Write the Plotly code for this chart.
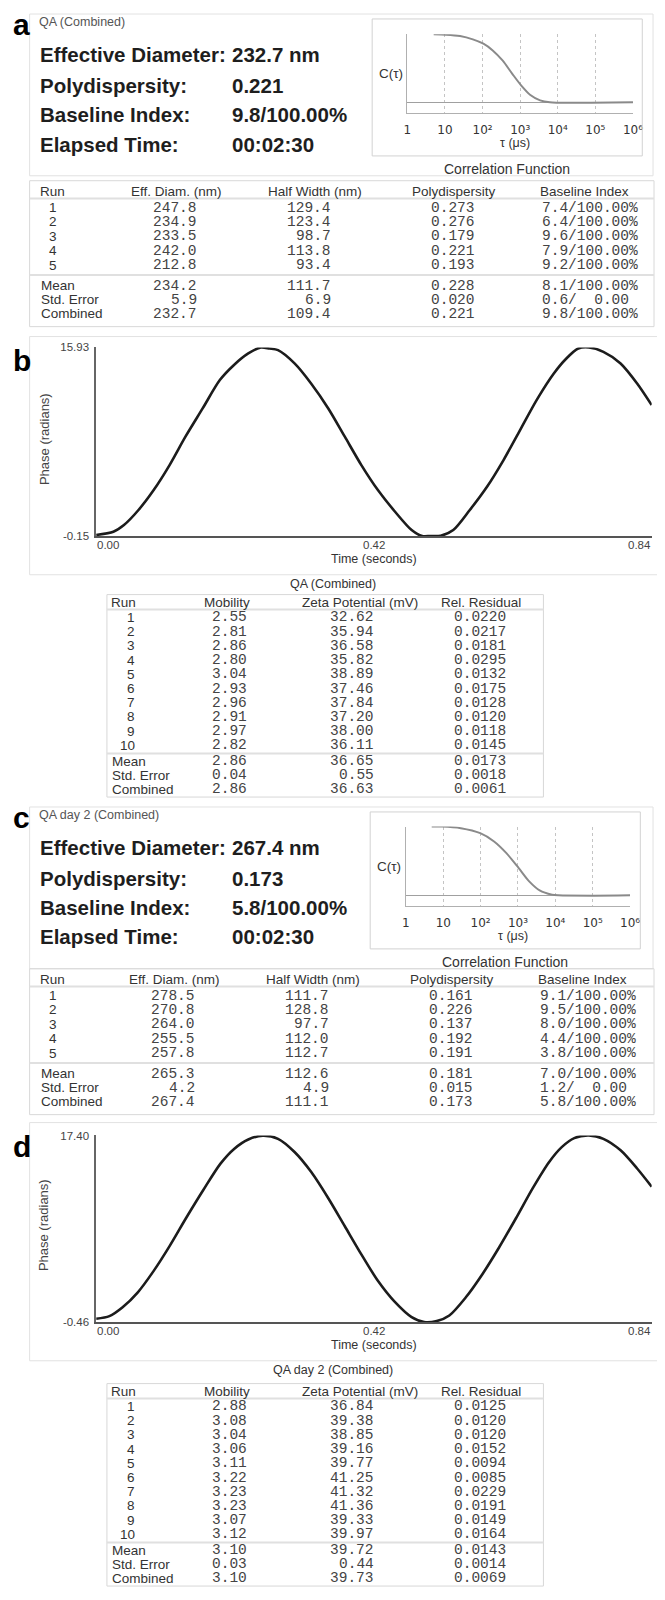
import plotly.graph_objects as go

# page is 665x1600; the browser adds an 8px body margin, so the figure is drawn
# 8px smaller and all layout positions below are given in page pixels.
PAGE_W, PAGE_H = 665, 1600
OFF = 8
W, H = PAGE_W - OFF, PAGE_H - OFF

# ------------------------------------------------------------------ data
dls_titles = ["QA (Combined)", "QA day 2 (Combined)"]
zeta_titles = ["QA (Combined)", "QA day 2 (Combined)"]

summary_labels = ["Effective Diameter:", "Polydispersity:", "Baseline Index:", "Elapsed Time:"]
summary_a = ["232.7 nm", "0.221", "9.8/100.00%", "00:02:30"]
summary_c = ["267.4 nm", "0.173", "5.8/100.00%", "00:02:30"]

dls_headers = ["Run", "Eff. Diam. (nm)", "Half Width (nm)", "Polydispersity", "Baseline Index"]
dls_rows = ["1", "2", "3", "4", "5", "Mean", "Std. Error", "Combined"]

a_eff = [247.8, 234.9, 233.5, 242.0, 212.8, 234.2, 5.9, 232.7]
a_half = [129.4, 123.4, 98.7, 113.8, 93.4, 111.7, 6.9, 109.4]
a_poly = [0.273, 0.276, 0.179, 0.221, 0.193, 0.228, 0.020, 0.221]
a_base = [7.4, 6.4, 9.6, 7.9, 9.2, 8.1, 0.6, 9.8]
a_base_tot = [100.0, 100.0, 100.0, 100.0, 100.0, 100.0, 0.0, 100.0]

c_eff = [278.5, 270.8, 264.0, 255.5, 257.8, 265.3, 4.2, 267.4]
c_half = [111.7, 128.8, 97.7, 112.0, 112.7, 112.6, 4.9, 111.1]
c_poly = [0.161, 0.226, 0.137, 0.192, 0.191, 0.181, 0.015, 0.173]
c_base = [9.1, 9.5, 8.0, 4.4, 3.8, 7.0, 1.2, 5.8]
c_base_tot = [100.0, 100.0, 100.0, 100.0, 100.0, 100.0, 0.0, 100.0]

zeta_headers = ["Run", "Mobility", "Zeta Potential (mV)", "Rel. Residual"]
zeta_rows = ["1", "2", "3", "4", "5", "6", "7", "8", "9", "10", "Mean", "Std. Error", "Combined"]

b_mob = [2.55, 2.81, 2.86, 2.80, 3.04, 2.93, 2.96, 2.91, 2.97, 2.82, 2.86, 0.04, 2.86]
b_zeta = [32.62, 35.94, 36.58, 35.82, 38.89, 37.46, 37.84, 37.20, 38.00, 36.11, 36.65, 0.55, 36.63]
b_res = [0.0220, 0.0217, 0.0181, 0.0295, 0.0132, 0.0175, 0.0128, 0.0120, 0.0118, 0.0145, 0.0173, 0.0018, 0.0061]

d_mob = [2.88, 3.08, 3.04, 3.06, 3.11, 3.22, 3.23, 3.23, 3.07, 3.12, 3.10, 0.03, 3.10]
d_zeta = [36.84, 39.38, 38.85, 39.16, 39.77, 41.25, 41.32, 41.36, 39.33, 39.97, 39.72, 0.44, 39.73]
d_res = [0.0125, 0.0120, 0.0120, 0.0152, 0.0094, 0.0085, 0.0229, 0.0191, 0.0149, 0.0164, 0.0143, 0.0014, 0.0069]

# correlation functions (tau in microseconds)
corr_ticks = [1, 10, 100, 1000, 10000, 100000, 1000000]
corr_ticktext = ["1", "10", "10²", "10³", "10⁴", "10⁵", "10⁶"]
corr_a_tau = [5.0, 10.7, 25.1, 55, 105, 186, 339, 617, 1072, 1862, 3388, 6166, 10233, 75858, 1000000]
corr_a_c = [1.00, 0.995, 0.975, 0.926, 0.862, 0.764, 0.616, 0.419, 0.246, 0.108, 0.030, 0.0, -0.005, -0.005, 0.0]
corr_c_tau = [4.9, 9.3, 29.5, 97.7, 229, 490, 1047, 1995, 3802, 8128, 12023, 104713, 1000000]
corr_c_c = [1.0, 1.0, 0.976, 0.903, 0.783, 0.613, 0.396, 0.203, 0.072, 0.010, 0.0, -0.005, 0.0]

# phase plots
b_time = [0.000, 0.026, 0.042, 0.064, 0.087, 0.111, 0.135, 0.161, 0.187, 0.208, 0.230, 0.249, 0.262,
          0.275, 0.300, 0.325, 0.351, 0.376, 0.401, 0.426, 0.452, 0.477, 0.493, 0.505, 0.521, 0.540,
          0.565, 0.591, 0.616, 0.641, 0.666, 0.692, 0.711, 0.729, 0.745, 0.767, 0.793, 0.818, 0.840]
b_phase = [-0.06, 0.22, 0.79, 2.07, 3.77, 5.90, 8.32, 10.73, 13.15, 14.42, 15.42, 15.93, 15.84,
           15.70, 14.57, 12.86, 10.73, 8.32, 5.90, 3.77, 1.92, 0.36, -0.15, -0.15, -0.12, 0.36,
           2.07, 4.05, 6.33, 8.88, 11.44, 13.71, 14.99, 15.84, 15.93, 15.56, 14.57, 12.86, 11.02]
b_range = [-0.15, 15.93]

d_time = [0.000, 0.020, 0.040, 0.063, 0.087, 0.111, 0.136, 0.162, 0.188, 0.209, 0.230, 0.252, 0.275,
          0.300, 0.325, 0.351, 0.376, 0.401, 0.426, 0.452, 0.477, 0.496, 0.515, 0.534, 0.559, 0.584,
          0.609, 0.635, 0.660, 0.685, 0.704, 0.723, 0.745, 0.767, 0.793, 0.818, 0.840]
d_phase = [-0.14, 0.11, 0.96, 2.39, 4.44, 6.81, 9.50, 12.18, 14.71, 16.14, 17.02, 17.38, 17.08,
           15.82, 13.92, 11.39, 8.71, 6.02, 3.49, 1.44, 0.01, -0.46, -0.36, 0.17, 1.91, 4.12,
           6.65, 9.50, 12.34, 14.87, 16.29, 17.15, 17.40, 17.08, 15.98, 14.24, 12.50]
d_range = [-0.46, 17.40]

time_ticks = [0.00, 0.42, 0.84]

# ------------------------------------------------------------------ helpers
SANS = "Liberation Sans, Arial, sans-serif"
MONO = "Liberation Mono, DejaVu Sans Mono, monospace"
NB = "\u00a0"

annotations = []
shapes = []


def X(px):
    return (px - OFF) / W


def Y(py):
    return 1 - (py - OFF) / H


def text(x, y, s, size, color="#333", bold=False, anchor="left", family=SANS, angle=0,
         xref="paper"):
    if bold:
        s = "<b>" + s + "</b>"
    annotations.append(dict(
        x=(X(x) if xref == "paper" else x), y=Y(y), xref=xref, yref="paper", text=s,
        showarrow=False, xanchor=anchor, yanchor="middle", borderpad=0,
        font=dict(size=size, color=color, family=family), textangle=angle))


def hline(x0, x1, y, color="#dcdcdc", width=1):
    shapes.append(dict(type="line", xref="paper", yref="paper", x0=X(x0), x1=X(x1),
                       y0=Y(y), y1=Y(y), line=dict(color=color, width=width)))


def rect(x0, y0, x1, y1, color="#dcdcdc", width=1):
    shapes.append(dict(type="rect", xref="paper", yref="paper", x0=X(x0), x1=X(x1),
                       y0=Y(y1), y1=Y(y0), line=dict(color=color, width=width),
                       fillcolor="rgba(0,0,0,0)"))


def fmt_base(b, t):
    if t > 0:
        return f"{b:.1f}/{t:6.2f}%"
    return (f"{b:.1f}/{t:6.2f}" + " ").replace(" ", NB)


NUMC = "#444444"
LABC = "#333333"


def dls_section(dy, tdy, dx, letter, title, summary, eff, half, poly, base, base_tot):
    rect(26, 8 + dy, 663, 171 + dy, "#e2e2e2")
    text(8, 19 + dy, letter, 30, "#000", bold=True)
    text(35, 16 + dy, title, 12.5, "#555")
    for lab, val, yy in zip(summary_labels, summary, [49, 80, 109, 139]):
        text(36, yy + dy, lab, 20.5, "#1e1e1e", bold=True)
        text(232, yy + dy, val, 20.5, "#1e1e1e", bold=True)
    rect(376 + dx, 13 + dy, 652 + dx, 151 + dy, "#d2d2d2")
    text(395 + dx, 68 + dy, "C(τ)", 13.5, LABC, anchor="center")
    text(522 + dx, 138 + dy, "τ (μs)", 12.5, LABC, anchor="center")
    text(514 + dx, 164 + dy, "Correlation Function", 14, LABC, anchor="center")
    rect(26, 176 + tdy, 664, 323 + tdy, "#d8d8d8")
    hline(26, 664, 194 + tdy, "#e0e0e0", 2)
    hline(26, 664, 271 + tdy, "#e0e0e0", 2)
    hy = 187 + tdy
    text(36, hy, dls_headers[0], 13.5, LABC)
    for h, cx in zip(dls_headers[1:], [176, 318, 460, 593]):
        text(cx + dx, hy, h, 13.5, LABC, anchor="center")
    row_y = [203, 217.5, 232, 246.5, 261, 282, 296, 310]
    for i, (lab, yy) in enumerate(zip(dls_rows, row_y)):
        yy = yy + tdy
        if i < 5:
            text(50, yy, lab, 13.5, LABC, anchor="center")
        else:
            text(37, yy, lab, 13.5, LABC)
        text(198 + dx, yy, f"{eff[i]:.1f}", 14.5, NUMC, anchor="right", family=MONO)
        text(335 + dx, yy, f"{half[i]:.1f}", 14.5, NUMC, anchor="right", family=MONO)
        text(482 + dx, yy, f"{poly[i]:.3f}", 14.5, NUMC, anchor="right", family=MONO)
        text(649 + dx, yy, fmt_base(base[i], base_tot[i]), 14.5, NUMC, anchor="right", family=MONO)


def phase_section(dy, letter, caption, xname):
    rect(26, 333 + dy, 670, 573 + dy, "#e2e2e2")
    text(8, 357 + dy, letter, 30, "#000", bold=True)
    text(41, 436 + dy, "Phase (radians)", 13, "#444", anchor="center", angle=-90)
    text(378, 557 + dy, "Time (seconds)", 12.5, "#333", anchor="center")
    text(336, 582 + dy, caption, 12.5, "#333", anchor="center")
    anchors = ["left", "center", "right"]
    for tv, an in zip(time_ticks, anchors):
        text(tv, 543 + dy, f"{tv:.2f}", 11.5, "#444", anchor=an, xref=xname)


def zeta_section(dy, mob, zeta, res):
    rect(105, 593 + dy, 551, 797 + dy, "#d8d8d8")
    hline(105, 551, 608 + dy, "#e0e0e0", 2)
    hline(105, 551, 753 + dy, "#e0e0e0", 2)
    hy = 601 + dy
    text(108, hy, zeta_headers[0], 13.5, LABC)
    for h, cx in zip(zeta_headers[1:], [228, 364, 487]):
        text(cx, hy, h, 13.5, LABC, anchor="center")
    row_y = [616 + 14.33 * k for k in range(10)] + [761, 775, 789]
    for i, (lab, yy) in enumerate(zip(zeta_rows, row_y)):
        yy = yy + dy
        if i < 10:
            text(135, yy, lab, 13.5, LABC, anchor="right")
        else:
            text(109, yy, lab, 13.5, LABC)
        text(249, yy, f"{mob[i]:.2f}", 14.5, NUMC, anchor="right", family=MONO)
        text(379, yy, f"{zeta[i]:.2f}", 14.5, NUMC, anchor="right", family=MONO)
        text(514, yy, f"{res[i]:.4f}", 14.5, NUMC, anchor="right", family=MONO)


dls_section(0, 0, 0, "a", dls_titles[0], summary_a, a_eff, a_half, a_poly, a_base, a_base_tot)
dls_section(799, 794, -2, "c", dls_titles[1], summary_c, c_eff, c_half, c_poly, c_base, c_base_tot)
phase_section(0, "b", zeta_titles[0], "x2")
phase_section(792, "d", zeta_titles[1], "x4")
zeta_section(0, b_mob, b_zeta, b_res)
zeta_section(795, d_mob, d_zeta, d_res)

# ------------------------------------------------------------------ traces
fig = go.Figure()
fig.add_trace(go.Scatter(x=corr_a_tau, y=corr_a_c, mode="lines", xaxis="x", yaxis="y",
                         line=dict(color="#8a8a8a", width=2, shape="spline", smoothing=0.8),
                         hoverinfo="skip"))
fig.add_trace(go.Scatter(x=b_time, y=b_phase, mode="lines", xaxis="x2", yaxis="y2",
                         line=dict(color="#1c1c1c", width=2.6, shape="spline", smoothing=0.8),
                         hoverinfo="skip"))
fig.add_trace(go.Scatter(x=corr_c_tau, y=corr_c_c, mode="lines", xaxis="x3", yaxis="y3",
                         line=dict(color="#8a8a8a", width=2, shape="spline", smoothing=0.8),
                         hoverinfo="skip"))
fig.add_trace(go.Scatter(x=d_time, y=d_phase, mode="lines", xaxis="x4", yaxis="y4",
                         line=dict(color="#1c1c1c", width=2.6, shape="spline", smoothing=0.8),
                         hoverinfo="skip"))


def corr_x(x0, x1, anchor):
    return dict(type="log", domain=[X(x0), X(x1)], range=[0, 6], tickvals=corr_ticks,
                ticktext=corr_ticktext, showgrid=True, gridcolor="#c4c4c4", griddash="dot",
                gridwidth=1, showline=True, linecolor="#b0b0b0", linewidth=1, zeroline=False,
                ticks="", ticklabelstandoff=6, anchor=anchor,
                tickfont=dict(size=12, color="#333", family="DejaVu Sans, sans-serif"))


def corr_y(ybot, ytop, anchor):
    return dict(domain=[Y(ybot), Y(ytop)], range=[-0.15, 1.0], showticklabels=False,
                showgrid=False, zeroline=True, zerolinecolor="#a0a0a0", zerolinewidth=1,
                showline=True, linecolor="#b0b0b0", linewidth=1, ticks="", anchor=anchor)


def phase_x(anchor):
    return dict(domain=[X(94), X(661.6)], range=[0, 0.84], showticklabels=False, showgrid=False,
                zeroline=False, showline=True, linecolor="#555", linewidth=2, ticks="",
                anchor=anchor)


def phase_y(ybot, ytop, rng, anchor):
    return dict(domain=[Y(ybot), Y(ytop)], range=rng, tickvals=rng,
                ticktext=[f"{v:.2f}" for v in rng], showgrid=False, zeroline=False,
                showline=True, linecolor="#666", linewidth=1.5, ticks="", ticklabelstandoff=3,
                anchor=anchor, tickfont=dict(size=11.5, color="#444", family=SANS))


fig.update_layout(
    width=W, height=H, margin=dict(l=0, r=0, t=0, b=0),
    paper_bgcolor="white", plot_bgcolor="white", showlegend=False,
    xaxis=corr_x(412, 642.5, "y"),
    yaxis=corr_y(107.3, 28.5, "x"),
    xaxis2=phase_x("y2"),
    yaxis2=phase_y(534, 344, b_range, "x2"),
    xaxis3=corr_x(410.5, 639.5, "y3"),
    yaxis3=corr_y(906.4, 826.7, "x3"),
    xaxis4=phase_x("y4"),
    yaxis4=phase_y(1326, 1138, d_range, "x4"),
    annotations=annotations,
    shapes=shapes,
)

fig.write_html("out.html")
